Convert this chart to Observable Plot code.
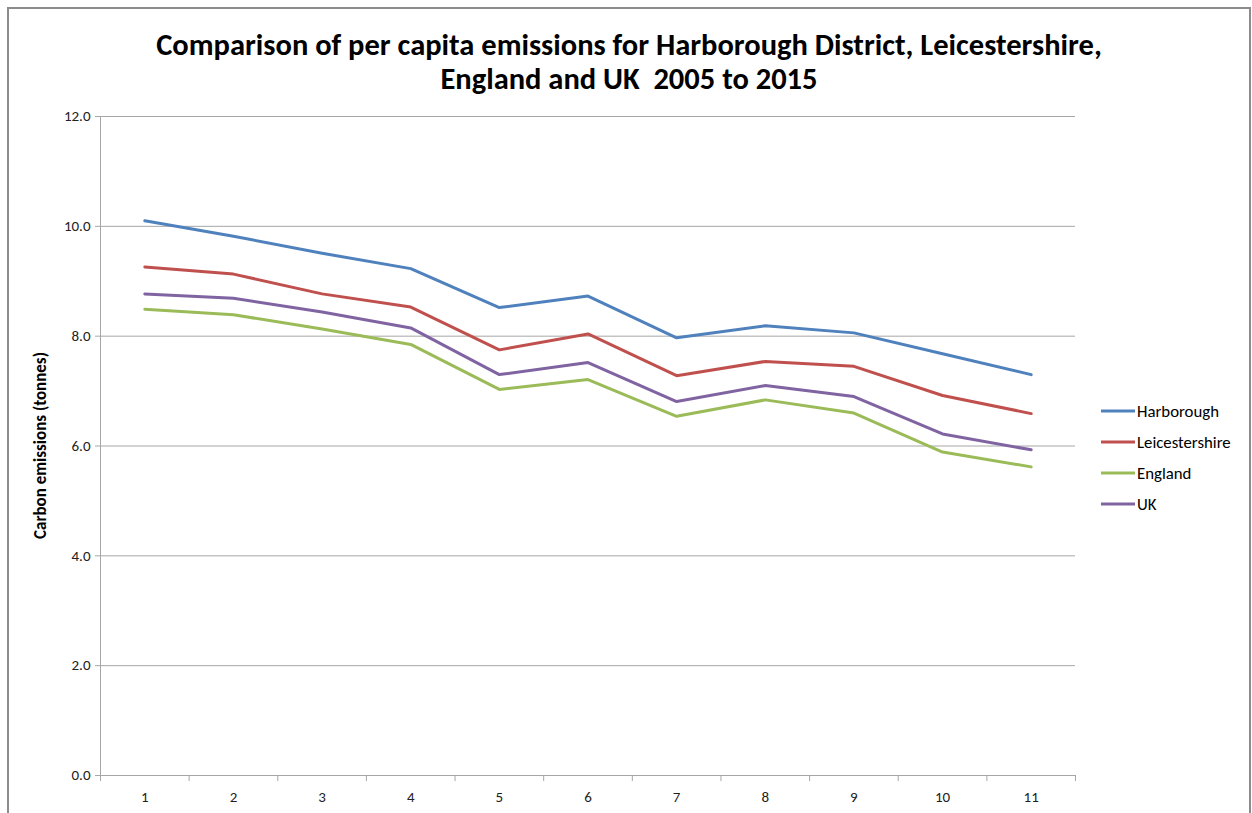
<!DOCTYPE html>
<html>
<head>
<meta charset="utf-8">
<script src="https://cdn.jsdelivr.net/npm/d3@7"></script>
<script src="https://cdn.jsdelivr.net/npm/@observablehq/plot@0.6"></script>
<style>
  html, body { margin: 0; padding: 0; background: #fff; }
  #chart svg { display: block; }
</style>
</head>
<body>
<div id="chart"></div>
<script>
const years = [1, 2, 3, 4, 5, 6, 7, 8, 9, 10, 11];
const seriesNames = ["Harborough", "Leicestershire", "England", "UK"];
const harborough = [10.1, 9.82, 9.51, 9.23, 8.52, 8.73, 7.97, 8.19, 8.06, 7.68, 7.30];
const leicestershire = [9.26, 9.13, 8.77, 8.53, 7.75, 8.04, 7.28, 7.54, 7.45, 6.92, 6.59];
const england = [8.49, 8.39, 8.13, 7.85, 7.03, 7.21, 6.54, 6.84, 6.60, 5.89, 5.62];
const uk = [8.77, 8.69, 8.44, 8.15, 7.30, 7.52, 6.81, 7.10, 6.90, 6.22, 5.93];
const colors = ["#4F81BD", "#C0504D", "#9BBB59", "#8064A2"];
const yTicks = [0, 2, 4, 6, 8, 10, 12];
const titleLines = ["Comparison of per capita emissions for Harborough District, Leicestershire,", "England and UK  2005 to 2015"];
const yLabel = "Carbon emissions (tonnes)";

const valuesBySeries = [harborough, leicestershire, england, uk];
const rows = [];
seriesNames.forEach((name, i) => {
  valuesBySeries[i].forEach((v, j) => rows.push({series: name, x: years[j], y: v}));
});
const boundaries = d3.range(0, years.length + 1).map(i => i + 0.5);

const font = "Carlito, Calibri, 'Liberation Sans Narrow', 'Open Sans', sans-serif";
const W = 1252, H = 813;
const mL = 100, mR = 177, mT = 116, mB = 38;

const plot = Plot.plot({
  width: W,
  height: H,
  marginLeft: mL,
  marginRight: mR,
  marginTop: mT,
  marginBottom: mB,
  style: {fontFamily: font, fontSize: "15px", color: "#000", background: "#fff"},
  x: {type: "linear", domain: [0.5, years.length + 0.5]},
  y: {domain: [0, 12]},
  color: {domain: seriesNames, range: colors},
  marks: [
    Plot.ruleY(yTicks.filter(d => d > 0), {stroke: "#a6a6a6", strokeWidth: 1}),
    Plot.ruleY([0], {stroke: "#a6a6a6", strokeWidth: 1}),
    Plot.ruleX([0.5], {y1: 0, y2: 12, stroke: "#a6a6a6", strokeWidth: 1}),
    Plot.axisY({ticks: yTicks, tickFormat: d => d.toFixed(1), tickSize: 5, tickPadding: 5, stroke: "#a6a6a6", label: null, fill: "#222", fontSize: 15}),
    Plot.axisX({ticks: boundaries, tickFormat: () => "", tickSize: 6, stroke: "#a6a6a6", label: null}),
    Plot.axisX({ticks: years, tickFormat: d => String(d), tickSize: 0, tickPadding: 16, label: null, fill: "#222", fontSize: 15}),
    Plot.line(rows, {x: "x", y: "y", z: "series", stroke: "series", strokeWidth: 3, strokeLinejoin: "round", strokeLinecap: "round"}),
  ]
});

const svg = d3.select(plot);
// outer chart border
svg.append("path")
  .attr("d", `M8,${H} V8 H1250 V${H}`)
  .attr("fill", "none").attr("stroke", "#8c8c8c").attr("stroke-width", 2);

// title
titleLines.forEach((t, i) => {
  svg.append("text")
    .attr("text-anchor", "middle")
    .attr("font-family", font)
    .attr("font-weight", "bold")
    .attr("font-size", 30.5)
    .attr("fill", "#000")
    .attr("x", 629).attr("y", 55 + i * 34)
    .text(t);
});

// y label
svg.append("text")
  .attr("transform", `translate(46,${(mT + H - mB) / 2}) rotate(-90)`)
  .attr("text-anchor", "middle")
  .attr("font-family", font)
  .attr("font-weight", "bold")
  .attr("font-size", 17)
  .text(yLabel);

// legend
const lg = svg.append("g").attr("font-family", font).attr("font-size", 16.8).attr("text-anchor", "start");
seriesNames.forEach((name, i) => {
  const y = 411 + i * 31;
  lg.append("line").attr("x1", 1101).attr("x2", 1135).attr("y1", y).attr("y2", y)
    .attr("stroke", colors[i]).attr("stroke-width", 3);
  lg.append("text").attr("x", 1137).attr("y", y).attr("dy", "0.35em").text(name);
});

document.getElementById("chart").appendChild(plot);
</script>
</body>
</html>
